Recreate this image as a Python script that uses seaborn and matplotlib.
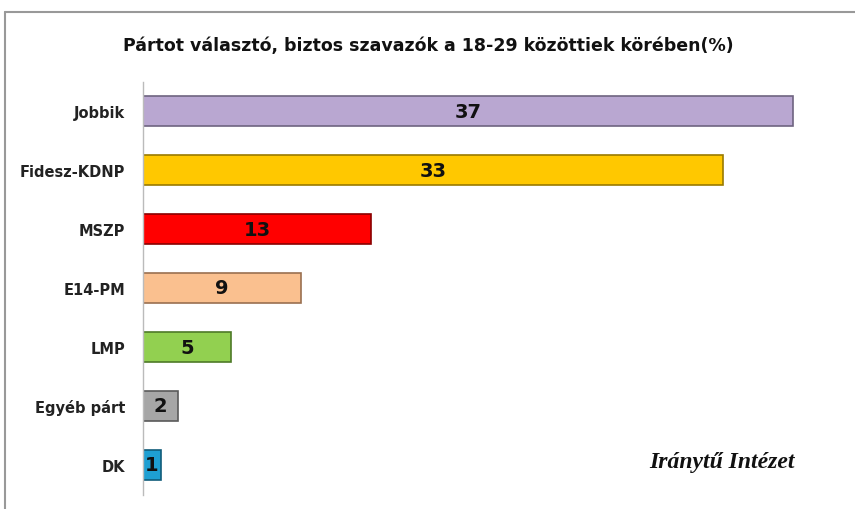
import pandas as pd
import matplotlib.pyplot as plt
import seaborn as sns
from matplotlib.lines import Line2D

# Adatok
partok = ['Jobbik', 'Fidesz-KDNP', 'MSZP', 'E14-PM', 'LMP', 'Egyéb párt', 'DK']
ertekek = [37, 33, 13, 9, 5, 2, 1]
szinek = ['#B9A7D1', '#FFC800', '#FF0000', '#FAC08F', '#92D050', '#A6A6A6', '#1E9FD2']
szelek = ['#6E6480', '#9A7A00', '#8A0000', '#9A7050', '#4E7A28', '#5A5A5A', '#115C7A']

df = pd.DataFrame({'part': partok, 'ertek': ertekek})

sns.set_style('white')
fig = plt.figure(figsize=(8.55, 5.1), dpi=100)
ax = fig.add_axes([143 / 855, 1 - 495.5 / 510, 703 / 855, 413 / 510])

sns.barplot(data=df, x='ertek', y='part', hue='part', palette=szinek,
            saturation=1, orient='h', width=0.5, legend=False, ax=ax)

for patch, ec in zip(ax.patches, szelek):
    patch.set_edgecolor(ec)
    patch.set_linewidth(1.2)

for i, v in enumerate(ertekek):
    ax.text(v / 2, i, str(v), ha='center', va='center', fontsize=14,
            fontweight='bold', color='#111111')

ax.set_xlim(0, 40)
ax.set_ylim(6.5, -0.5)
ax.set_xlabel('')
ax.set_ylabel('')
ax.set_xticks([])
ax.tick_params(axis='y', length=0, pad=13)
for lab in ax.get_yticklabels():
    lab.set_fontweight('bold')
    lab.set_fontsize(10.5)
    lab.set_color('#222222')
for s in ['top', 'right', 'bottom']:
    ax.spines[s].set_visible(False)
ax.spines['left'].set_color('#BBBBBB')
ax.spines['left'].set_linewidth(1)

fig.text(428 / 855, 1 - 46 / 510,
         'Pártot választó, biztos szavazók a 18-29 közöttiek körében(%)',
         ha='center', va='center', fontsize=12.5, fontweight='bold',
         color='#111111')

fig.text(722 / 855, 1 - 463 / 510, 'Iránytű Intézet', ha='center', va='center',
         fontsize=17, fontweight='bold', fontstyle='italic',
         family=['Liberation Serif', 'DejaVu Serif'], color='#111111')

# keret
fig.add_artist(Line2D([5 / 855, 1], [1 - 13 / 510, 1 - 13 / 510],
                      transform=fig.transFigure, color='#999999', lw=1.5))
fig.add_artist(Line2D([5 / 855, 5 / 855], [0, 1 - 13 / 510],
                      transform=fig.transFigure, color='#999999', lw=1.5))

fig.savefig('out.png', dpi=100)
